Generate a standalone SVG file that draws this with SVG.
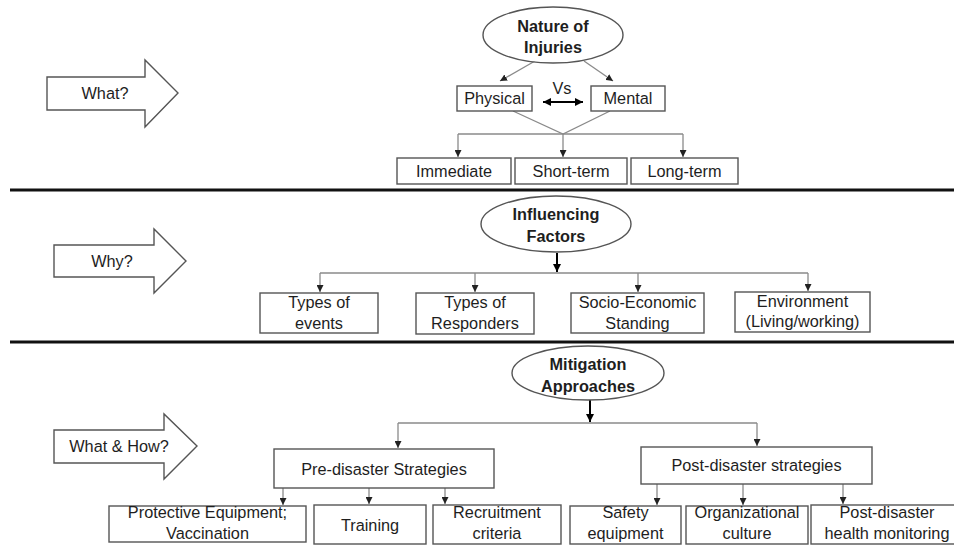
<svg xmlns="http://www.w3.org/2000/svg" width="954" height="546" viewBox="0 0 954 546">
<defs>
<marker id="ah" viewBox="0 0 10 10" refX="10" refY="5" markerWidth="7" markerHeight="7" markerUnits="userSpaceOnUse" orient="auto"><path d="M0,0 L10,5 L0,10 z" fill="#222"/></marker>
<marker id="ahb" viewBox="0 0 10 10" refX="10" refY="5" markerWidth="8" markerHeight="8" markerUnits="userSpaceOnUse" orient="auto-start-reverse"><path d="M0,0 L10,5 L0,10 z" fill="#000"/></marker>
<style>
.t{font-family:"Liberation Sans",Arial,sans-serif;font-size:16.3px;fill:#1e1e1e;text-anchor:middle}
.b{font-weight:bold}
.box{fill:#fff;stroke:#555;stroke-width:1.4}
.big{fill:#fff;stroke:#555;stroke-width:1.4}
.c{fill:none;stroke:#8a8a8a;stroke-width:1.3}
.cb{fill:none;stroke:#000;stroke-width:2}
.sep{stroke:#111;stroke-width:3}
</style>
</defs>
<rect width="954" height="546" fill="#fff"/>
<g id="separators">
<line class="sep" x1="10" y1="190" x2="954" y2="190"/>
<line class="sep" x1="10" y1="342" x2="954" y2="342"/>
</g>
<g id="connectors">
<line class="c" x1="535" y1="61" x2="500" y2="81" marker-end="url(#ah)"/>
<line class="c" x1="584" y1="61" x2="613" y2="81" marker-end="url(#ah)"/>
<line class="cb" x1="543" y1="102" x2="583" y2="102" marker-start="url(#ahb)" marker-end="url(#ahb)"/>
<polyline class="c" points="513,111 563,134 610,111"/>
<line class="c" x1="458" y1="134" x2="683" y2="134"/>
<line class="c" x1="458" y1="134" x2="458" y2="157" marker-end="url(#ah)"/>
<line class="c" x1="563" y1="134" x2="563" y2="157" marker-end="url(#ah)"/>
<line class="c" x1="683" y1="134" x2="683" y2="157" marker-end="url(#ah)"/>
<line class="cb" x1="557" y1="253" x2="557" y2="272" marker-end="url(#ahb)"/>
<line class="c" x1="320" y1="273" x2="808" y2="273"/>
<line class="c" x1="320" y1="273" x2="320" y2="292" marker-end="url(#ah)"/>
<line class="c" x1="475" y1="273" x2="475" y2="292" marker-end="url(#ah)"/>
<line class="c" x1="638" y1="273" x2="638" y2="292" marker-end="url(#ah)"/>
<line class="c" x1="808" y1="273" x2="808" y2="291" marker-end="url(#ah)"/>
<line class="cb" x1="590" y1="400" x2="590" y2="422" marker-end="url(#ahb)"/>
<line class="c" x1="398" y1="423" x2="757" y2="423"/>
<line class="c" x1="398" y1="423" x2="398" y2="448" marker-end="url(#ah)"/>
<line class="c" x1="757" y1="423" x2="757" y2="446" marker-end="url(#ah)"/>
<line class="c" x1="283" y1="488" x2="283" y2="505" marker-end="url(#ah)"/>
<line class="c" x1="369" y1="488" x2="369" y2="504" marker-end="url(#ah)"/>
<line class="c" x1="445" y1="488" x2="445" y2="504" marker-end="url(#ah)"/>
<line class="c" x1="657" y1="484" x2="657" y2="505" marker-end="url(#ah)"/>
<line class="c" x1="743" y1="484" x2="743" y2="505" marker-end="url(#ah)"/>
<line class="c" x1="843" y1="484" x2="843" y2="504" marker-end="url(#ah)"/>
</g>
<g id="arrow-what">
<polygon class="big" points="47,77 145,77 145,60 178,93 145,127 145,110 47,110"/>
<text class="t" x="105" y="99">What?</text>
</g>
<g id="arrow-why">
<polygon class="big" points="54,245 154,245 154,229 186,261 154,293 154,277 54,277"/>
<text class="t" x="112" y="267">Why?</text>
</g>
<g id="arrow-whathow">
<polygon class="big" points="54,430 164,430 164,414 197,446 164,479 164,463 54,463"/>
<text class="t" x="119" y="452">What &amp; How?</text>
</g>
<g id="nature">
<ellipse class="box" cx="553" cy="35" rx="70" ry="28"/>
<text class="t b" x="553" y="32">Nature of</text>
<text class="t b" x="553" y="53">Injuries</text>
</g>
<g id="physical">
<rect class="box" x="457" y="86" width="75" height="25"/>
<text class="t" x="494.5" y="104">Physical</text>
</g>
<g id="vs"><text class="t" x="562" y="94">Vs</text></g>
<g id="mental">
<rect class="box" x="591" y="86" width="74" height="25"/>
<text class="t" x="628" y="104">Mental</text>
</g>
<g id="immediate">
<rect class="box" x="397" y="158" width="114" height="26"/>
<text class="t" x="454" y="177">Immediate</text>
</g>
<g id="shortterm">
<rect class="box" x="515" y="158" width="112" height="26"/>
<text class="t" x="571" y="177">Short-term</text>
</g>
<g id="longterm">
<rect class="box" x="631" y="158" width="107" height="26"/>
<text class="t" x="684.5" y="177">Long-term</text>
</g>
<g id="influencing">
<ellipse class="box" cx="556" cy="224" rx="75" ry="28"/>
<text class="t b" x="556" y="220">Influencing</text>
<text class="t b" x="556" y="242">Factors</text>
</g>
<g id="types-events">
<rect class="box" x="260" y="293" width="118" height="40"/>
<text class="t" x="319" y="308">Types of</text>
<text class="t" x="319" y="329">events</text>
</g>
<g id="types-responders">
<rect class="box" x="416" y="293" width="118" height="41"/>
<text class="t" x="475" y="308">Types of</text>
<text class="t" x="475" y="329">Responders</text>
</g>
<g id="socio">
<rect class="box" x="571" y="293" width="133" height="40"/>
<text class="t" x="637.5" y="308">Socio-Economic</text>
<text class="t" x="637.5" y="329">Standing</text>
</g>
<g id="environment">
<rect class="box" x="735" y="292" width="135" height="40"/>
<text class="t" x="802.5" y="307">Environment</text>
<text class="t" x="802.5" y="327">(Living/working)</text>
</g>
<g id="mitigation">
<ellipse class="box" cx="588" cy="373" rx="76" ry="27"/>
<text class="t b" x="588" y="370">Mitigation</text>
<text class="t b" x="588" y="392">Approaches</text>
</g>
<g id="pre">
<rect class="box" x="274" y="449" width="220" height="39"/>
<text class="t" x="384" y="475">Pre-disaster Strategies</text>
</g>
<g id="post">
<rect class="box" x="641" y="447" width="231" height="37"/>
<text class="t" x="756.5" y="471">Post-disaster strategies</text>
</g>
<g id="protective">
<rect class="box" x="109" y="506" width="197" height="36"/>
<text class="t" x="207.5" y="518">Protective Equipment;</text>
<text class="t" x="207.5" y="539">Vaccination</text>
</g>
<g id="training">
<rect class="box" x="314" y="505" width="112" height="39"/>
<text class="t" x="370" y="531">Training</text>
</g>
<g id="recruitment">
<rect class="box" x="433" y="505" width="128" height="39"/>
<text class="t" x="497" y="518">Recruitment</text>
<text class="t" x="497" y="539">criteria</text>
</g>
<g id="safety">
<rect class="box" x="570" y="506" width="111" height="38"/>
<text class="t" x="625.5" y="518">Safety</text>
<text class="t" x="625.5" y="539">equipment</text>
</g>
<g id="organizational">
<rect class="box" x="686" y="506" width="122" height="38"/>
<text class="t" x="747" y="518">Organizational</text>
<text class="t" x="747" y="539">culture</text>
</g>
<g id="monitoring">
<rect class="box" x="811" y="505" width="150" height="39"/>
<text class="t" x="887" y="518">Post-disaster</text>
<text class="t" x="887" y="539">health monitoring</text>
</g>
</svg>
